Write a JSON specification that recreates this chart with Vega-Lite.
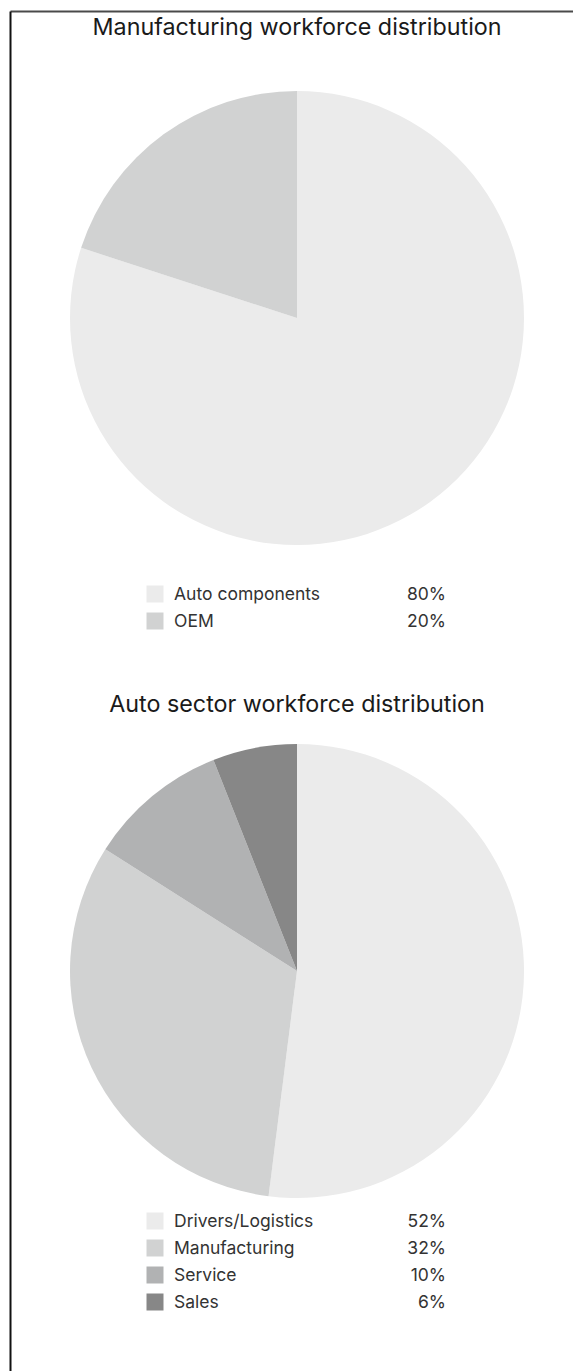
{
  "$schema": "https://vega.github.io/schema/vega-lite/v6.json",
  "width": 563,
  "height": 1360,
  "padding": {"left": 10, "top": 11, "right": 0, "bottom": 0},
  "autosize": {"type": "none"},
  "background": "white",
  "config": {"view": {"stroke": null}, "font": "Inter"},
  "data": {
    "values": [
      {"chart": "Manufacturing workforce distribution", "category": "Auto components", "share": 0.80, "order": 1},
      {"chart": "Manufacturing workforce distribution", "category": "OEM", "share": 0.20, "order": 2},
      {"chart": "Auto sector workforce distribution", "category": "Drivers/Logistics", "share": 0.52, "order": 1},
      {"chart": "Auto sector workforce distribution", "category": "Manufacturing", "share": 0.32, "order": 2},
      {"chart": "Auto sector workforce distribution", "category": "Service", "share": 0.10, "order": 3},
      {"chart": "Auto sector workforce distribution", "category": "Sales", "share": 0.06, "order": 4}
    ]
  },
  "layer": [
    {
      "mark": {"type": "point", "opacity": 0},
      "encoding": {
        "x": {"field": "share", "type": "quantitative", "scale": {"domain": [0, 1], "nice": false, "zero": false},
          "axis": {"orient": "top", "domain": true, "domainColor": "#4a4a4a", "domainWidth": 2, "ticks": false, "labels": false, "grid": false, "title": null}},
        "y": {"field": "share", "type": "quantitative", "scale": {"domain": [0, 1], "nice": false, "zero": false},
          "axis": {"orient": "left", "domain": true, "domainColor": "#111111", "domainWidth": 2, "ticks": false, "labels": false, "grid": false, "title": null}}
      }
    },
    {
      "transform": [
        {"stack": "share", "groupby": ["chart"], "sort": [{"field": "order", "order": "ascending"}], "as": ["s0", "s1"]}
      ],
      "mark": {"type": "arc", "outerRadius": 227},
      "encoding": {
        "theta": {"field": "s0", "type": "quantitative", "stack": null, "scale": {"domain": [0, 1], "range": [0, 6.283185307179586]}},
        "theta2": {"field": "s1"},
        "color": {"field": "category", "type": "nominal", "legend": null,
          "scale": {"domain": ["Auto components", "OEM", "Drivers/Logistics", "Manufacturing", "Service", "Sales"],
                    "range": ["#ebebeb", "#d1d2d2", "#ebebeb", "#d1d2d2", "#b1b2b3", "#878787"]}},
        "x": {"datum": "centre", "type": "nominal", "scale": {"type": "point", "domain": ["key", "centre", "amount"], "range": [145, 429], "padding": 0}, "axis": null},
        "y": {"field": "chart", "type": "nominal", "scale": {"type": "point", "domain": ["Manufacturing workforce distribution", "Auto sector workforce distribution"], "range": [307, 960], "padding": 0}, "axis": null}
      }
    },
    {
      "transform": [
        {"aggregate": [{"op": "count", "as": "n"}], "groupby": ["chart"]}
      ],
      "mark": {"type": "text", "fontSize": 23.3, "color": "#1a1a1a", "baseline": "middle", "align": "center"},
      "encoding": {
        "text": {"field": "chart"},
        "x": {"datum": "centre", "type": "nominal", "scale": {"type": "point", "domain": ["key", "centre", "amount"], "range": [145, 429], "padding": 0}, "axis": null},
        "y": {"field": "chart", "type": "nominal", "scale": {"type": "point", "domain": ["Manufacturing workforce distribution", "Auto sector workforce distribution"], "range": [17, 694], "padding": 0}, "axis": null}
      }
    },
    {
      "mark": {"type": "square", "size": 289, "filled": true, "opacity": 1},
      "encoding": {
        "color": {"field": "category", "type": "nominal", "legend": null},
        "x": {"datum": "key", "type": "nominal", "scale": {"type": "point", "domain": ["key", "centre", "amount"], "range": [145, 429], "padding": 0}, "axis": null},
        "y": {"field": "chart", "type": "nominal", "scale": {"type": "point", "domain": ["Manufacturing workforce distribution", "Auto sector workforce distribution"], "range": [583, 1210], "padding": 0}, "axis": null},
        "yOffset": {"field": "order", "type": "ordinal", "scale": {"type": "point", "domain": [1, 2, 3, 4], "range": [0, 81], "padding": 0}}
      }
    },
    {
      "mark": {"type": "text", "fontSize": 17.5, "color": "#333333", "baseline": "middle", "align": "left", "dx": 19},
      "encoding": {
        "text": {"field": "category"},
        "x": {"datum": "key", "type": "nominal", "scale": {"type": "point", "domain": ["key", "centre", "amount"], "range": [145, 429], "padding": 0}, "axis": null},
        "y": {"field": "chart", "type": "nominal", "scale": {"type": "point", "domain": ["Manufacturing workforce distribution", "Auto sector workforce distribution"], "range": [584, 1211], "padding": 0}, "axis": null},
        "yOffset": {"field": "order", "type": "ordinal", "scale": {"type": "point", "domain": [1, 2, 3, 4], "range": [0, 81], "padding": 0}}
      }
    },
    {
      "mark": {"type": "text", "fontSize": 17.5, "color": "#333333", "baseline": "middle", "align": "right", "dx": 7},
      "encoding": {
        "text": {"field": "share", "format": ".0%"},
        "x": {"datum": "amount", "type": "nominal", "scale": {"type": "point", "domain": ["key", "centre", "amount"], "range": [145, 429], "padding": 0}, "axis": null},
        "y": {"field": "chart", "type": "nominal", "scale": {"type": "point", "domain": ["Manufacturing workforce distribution", "Auto sector workforce distribution"], "range": [584, 1211], "padding": 0}, "axis": null},
        "yOffset": {"field": "order", "type": "ordinal", "scale": {"type": "point", "domain": [1, 2, 3, 4], "range": [0, 81], "padding": 0}}
      }
    }
  ],
  "resolve": {
    "scale": {"x": "independent", "y": "independent", "yOffset": "independent"},
    "axis": {"x": "independent", "y": "independent"}
  }
}
